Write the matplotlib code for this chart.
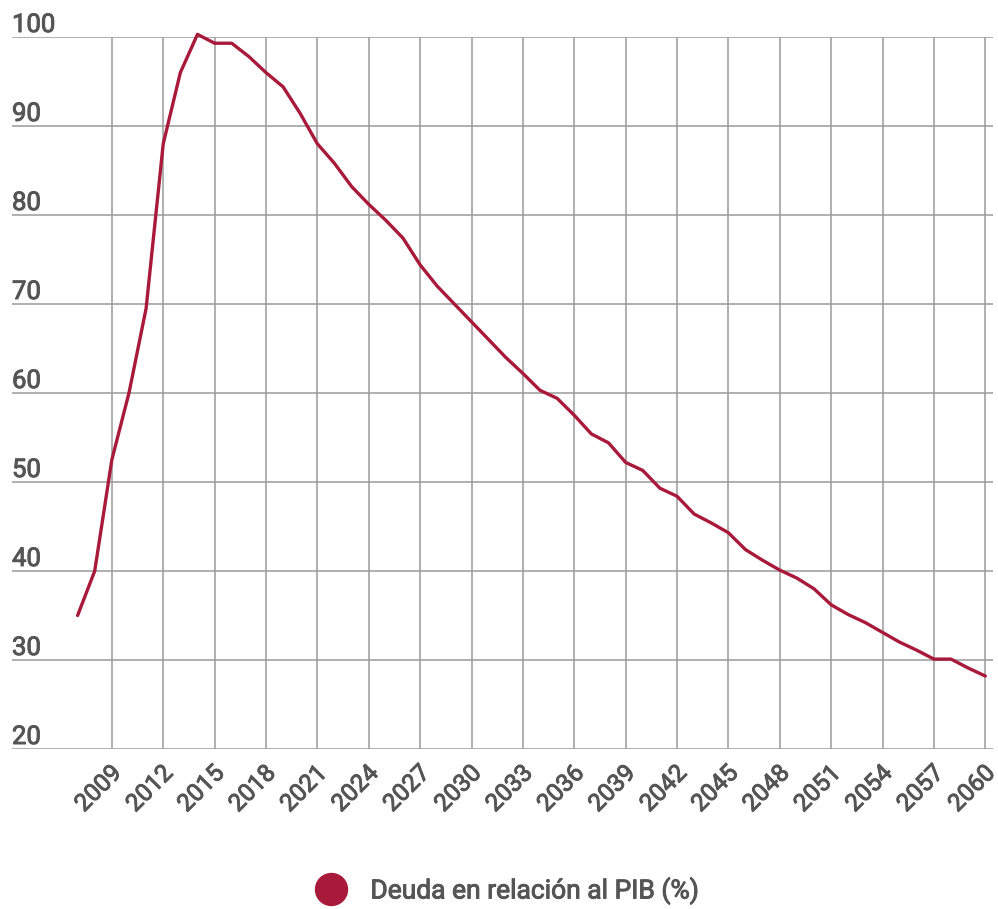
import numpy as np
import matplotlib
matplotlib.use("Agg")
import matplotlib.pyplot as plt
import matplotlib.patheffects as pe
from matplotlib.lines import Line2D
from matplotlib.transforms import ScaledTranslation

plt.rcParams['font.family'] = ['Roboto', 'DejaVu Sans']

# deuda / PIB (%), lectura del gráfico
years = list(range(2007, 2061))
debt = [35.0, 40.0, 52.5, 60.0, 69.5, 88.0, 96.0, 100.3, 99.3, 99.3,
        97.8, 96.0, 94.4, 91.4, 88.0, 85.8, 83.2, 81.2, 79.4, 77.4,
        74.4, 72.0, 70.0, 68.0, 66.0, 64.0, 62.2, 60.3, 59.4, 57.5,
        55.4, 54.4, 52.2, 51.3, 49.3, 48.4, 46.4, 45.4, 44.3, 42.4,
        41.2, 40.1, 39.2, 38.0, 36.2, 35.1, 34.2, 33.1, 32.0, 31.1,
        30.1, 30.1, 29.1, 28.2]
xticks = list(range(2009, 2061, 3))
yticks = list(range(20, 101, 10))
label = "Deuda en relación al PIB (%)"

red = "#A8193A"
grey = "#555555"
gridc = "#9a9a9a"
# un poco más de grosor en el texto
thick = [pe.withStroke(linewidth=0.7, foreground=grey)]

fig = plt.figure(figsize=(9.98, 9.09), dpi=100)
ax = fig.add_axes([12 / 998, 1 - 749 / 909, 981 / 998, 712 / 909])

ax.plot(years, debt, color=red, lw=2.4, solid_joinstyle='round',
        solid_capstyle='round', clip_on=False, zorder=3)

ax.set_xlim(2003.17, 2060.45)
ax.set_ylim(20, 100)
ax.set_xticks(xticks)
ax.set_yticks(yticks)

for y in yticks:
    ax.axhline(y, color=gridc, lw=1.1, zorder=1)
for x in xticks:
    ax.axvline(x, color=gridc, lw=1.1, zorder=1)

for s in ax.spines.values():
    s.set_visible(False)
ax.tick_params(length=0)
ax.set_yticklabels([])
for y in yticks:
    ax.text(0, y, str(y), transform=ax.get_yaxis_transform(),
            ha='left', va='bottom', fontsize=18.5, color=grey,
            path_effects=thick)

ax.set_xticklabels([str(x) for x in xticks], rotation=45, ha='right',
                   rotation_mode='anchor', fontsize=17.5, color=grey)
ax.tick_params(axis='x', pad=9)
for t in ax.get_xticklabels():
    t.set_path_effects(thick)
    t.set_transform(t.get_transform() + ScaledTranslation(-2 / 100, 0, fig.dpi_scale_trans))

handle = Line2D([], [], marker='o', color=red, linestyle='None', markersize=23)
leg = fig.legend(handles=[handle], labels=[label], loc='center',
                 bbox_to_anchor=(0.5025, 1 - 891 / 909), frameon=False,
                 fontsize=19, labelcolor=grey, handletextpad=0.5)
for t in leg.get_texts():
    t.set_path_effects(thick)

fig.savefig("out.png", dpi=100)
